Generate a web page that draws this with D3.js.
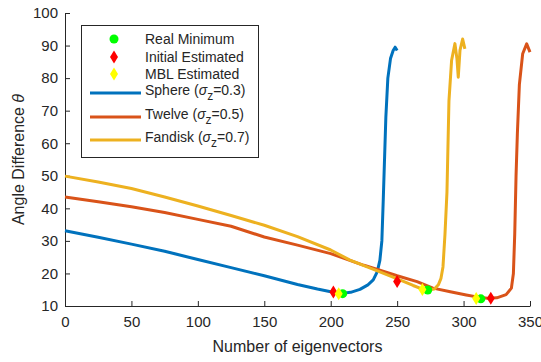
<!DOCTYPE html>
<html>
<head>
<meta charset="utf-8">
<script src="https://cdn.jsdelivr.net/npm/d3@7"></script>
<style>
  body { margin: 0; background: #fff; }
  text { font-family: "Liberation Sans", Arial, sans-serif; fill: #262626; }
</style>
</head>
<body>
<div id="chart"></div>
<script>
// data
const sphereX = [0, 25, 50, 75, 100, 125, 150, 175, 190, 200, 207, 215, 222, 228, 232, 235, 237, 238.5, 239.5, 240.5, 241.5, 243, 245, 247, 248.5, 250];
const sphereY = [33.1, 31.1, 29.0, 26.8, 24.3, 21.8, 19.3, 16.6, 15.2, 14.4, 13.8, 14.2, 15.1, 16.5, 18, 20.5, 24, 30, 42, 55, 68, 80, 86, 88.5, 89.5, 88.5];

const twelveX = [0, 25, 50, 75, 100, 125, 150, 175, 200, 225, 237, 250, 265, 277, 290, 302, 310, 318, 325, 332, 336, 337.5, 338.5, 339.5, 340.5, 342, 344.5, 347.5, 350];
const twelveY = [43.5, 42, 40.5, 38.7, 36.6, 34.5, 31.2, 28.7, 26.1, 22.5, 21, 19.3, 17.5, 15.5, 14.4, 13.4, 12.8, 12.4, 12.5, 13.5, 15.5, 20, 32, 50, 63, 78, 87.5, 90.5, 88];

const fandiskX = [0, 25, 50, 75, 100, 125, 150, 175, 200, 214.5, 237, 252, 262, 269, 273, 278, 281, 283, 284.5, 286, 287.5, 289, 291, 293.5, 295, 296, 297.3, 299.3, 301];
const fandiskY = [49.9, 48.1, 46.1, 43.5, 40.7, 37.8, 34.8, 31.3, 27.2, 24.1, 20.5, 18, 16.3, 15.2, 14.9, 15.2, 16.5, 18.5, 22, 32, 45, 73, 85.5, 90.6, 86, 80.3, 88.5, 92, 89];

const realMinX = [209, 273, 313];
const realMinY = [13.8, 14.9, 12.2];
const initEstX = [202, 250, 320.5];
const initEstY = [14.3, 17.5, 12.4];
const mblEstX = [206, 269, 309.5];
const mblEstY = [13.8, 15.1, 12.3];

const xTicks = [0, 50, 100, 150, 200, 250, 300, 350];
const yTicks = [10, 20, 30, 40, 50, 60, 70, 80, 90, 100];

const series = [
  {name: 'Sphere', sigma: '0.3', color: '#0072BD', xs: sphereX, ys: sphereY},
  {name: 'Twelve', sigma: '0.5', color: '#D95319', xs: twelveX, ys: twelveY},
  {name: 'Fandisk', sigma: '0.7', color: '#EDB120', xs: fandiskX, ys: fandiskY}
];

const width = 541, height = 362;
const margin = {left: 65, right: 11, top: 13, bottom: 56};

const svg = d3.select('#chart').append('svg')
  .attr('width', width)
  .attr('height', height);

const x = d3.scaleLinear().domain([0, 350]).range([margin.left, width - margin.right]);
const y = d3.scaleLinear().domain([10, 100]).range([height - margin.bottom, margin.top]);

// axes, ticks inside like matlab
const xAxis = svg.append('g')
  .attr('transform', `translate(0,${height - margin.bottom})`)
  .call(d3.axisBottom(x).tickValues(xTicks).tickSizeInner(-5).tickSizeOuter(0).tickPadding(10));
const yAxis = svg.append('g')
  .attr('transform', `translate(${margin.left},0)`)
  .call(d3.axisLeft(y).tickValues(yTicks).tickSizeInner(-5).tickSizeOuter(0).tickPadding(7));

[xAxis, yAxis].forEach(a => {
  a.selectAll('path, line').attr('stroke', '#262626');
  a.selectAll('text').style('font-size', '15px').attr('fill', '#262626');
  a.select('.domain').attr('stroke-width', 1);
});

svg.append('text')
  .attr('x', (margin.left + width - margin.right) / 2)
  .attr('y', 352)
  .attr('text-anchor', 'middle')
  .style('font-size', '16px')
  .text('Number of eigenvectors');

const yl = svg.append('text')
  .attr('transform', `translate(24,${(margin.top + height - margin.bottom) / 2}) rotate(-90)`)
  .attr('text-anchor', 'middle')
  .style('font-size', '16px');
yl.append('tspan').text('Angle Difference ');
yl.append('tspan').style('font-style', 'italic').text('θ');

const line = d3.line().x(d => x(d[0])).y(d => y(d[1]));

series.forEach(s => {
  svg.append('path')
    .datum(s.xs.map((v, i) => [v, s.ys[i]]))
    .attr('d', line)
    .attr('fill', 'none')
    .attr('stroke', s.color)
    .attr('stroke-width', 3)
    .attr('stroke-linejoin', 'round');
});

const diamond = 'M0,-6.5L4,0L0,6.5L-4,0Z';

svg.selectAll('.real').data(realMinX).enter().append('circle')
  .attr('cx', d => x(d)).attr('cy', (d, i) => y(realMinY[i]))
  .attr('r', 4.5).attr('fill', '#00FF00');
svg.selectAll('.init').data(initEstX).enter().append('path')
  .attr('d', diamond)
  .attr('transform', (d, i) => `translate(${x(d)},${y(initEstY[i])})`)
  .attr('fill', '#FF0000');
svg.selectAll('.mbl').data(mblEstX).enter().append('path')
  .attr('d', diamond)
  .attr('transform', (d, i) => `translate(${x(d)},${y(mblEstY[i])})`)
  .attr('fill', '#FFFF00');

// legend
const lg = svg.append('g');
lg.append('rect')
  .attr('x', 81.5).attr('y', 25.5).attr('width', 177).attr('height', 132)
  .attr('fill', '#fff').attr('stroke', '#262626').attr('stroke-width', 1);

const lx = 114, tx = 145;
const rowY = [39, 57, 74, 93, 117, 140];

lg.append('circle').attr('cx', lx).attr('cy', rowY[0]).attr('r', 4.5).attr('fill', '#00FF00');
lg.append('path').attr('d', diamond).attr('transform', `translate(${lx},${rowY[1]})`).attr('fill', '#FF0000');
lg.append('path').attr('d', diamond).attr('transform', `translate(${lx},${rowY[2]})`).attr('fill', '#FFFF00');

['Real Minimum', 'Initial Estimated', 'MBL Estimated'].forEach((t, i) => {
  lg.append('text').attr('x', tx).attr('y', rowY[i] + 5).style('font-size', '14px').text(t);
});

series.forEach((s, i) => {
  const yy = rowY[i + 3];
  lg.append('line')
    .attr('x1', 90).attr('x2', 141).attr('y1', yy).attr('y2', yy)
    .attr('stroke', s.color).attr('stroke-width', 3);
  const t = lg.append('text').attr('x', tx).attr('y', yy + 2).style('font-size', '14px');
  t.append('tspan').text(s.name + ' (');
  t.append('tspan').style('font-style', 'italic').text('σ');
  t.append('tspan').attr('dy', 5).style('font-size', '12px').text('z');
  t.append('tspan').attr('dy', -5).text('=' + s.sigma + ')');
});
</script>
</body>
</html>
